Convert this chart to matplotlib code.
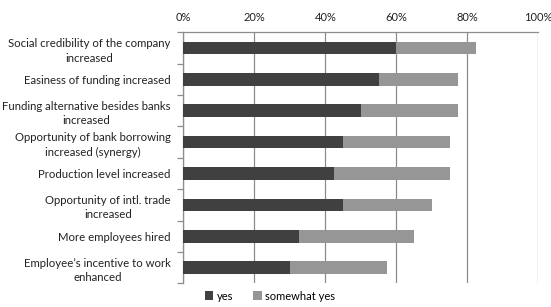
import numpy as np
import matplotlib.pyplot as plt
from matplotlib.ticker import PercentFormatter

plt.rcParams['font.family'] = ['Lato', 'DejaVu Sans']

categories = [
    "Social credibility of the company\nincreased",
    "Easiness of funding increased",
    "Funding alternative besides banks\nincreased",
    "Opportunity of bank borrowing\nincreased (synergy)",
    "Production level increased",
    "Opportunity of intl. trade\nincreased",
    "More employees hired",
    "Employee\u2019s incentive to work\nenhanced",
]
yes = [60, 55, 50, 45, 42.5, 45, 32.5, 30]
somewhat_yes = [22.5, 22.5, 27.5, 30, 32.5, 25, 32.5, 27.5]

fig = plt.figure(figsize=(5.51, 3.07), dpi=100)
ax = fig.add_axes([0.3327, 0.0772, 0.6443, 0.8176])

y = np.arange(len(categories))
ax.barh(y, yes, height=0.4, color="#404040", label="yes", zorder=3)
ax.barh(y, somewhat_yes, left=yes, height=0.4, color="#969696",
        label="somewhat yes", zorder=3)

ax.set_xlim(0, 100)
ax.set_ylim(len(categories) - 0.5, -0.5)
ax.set_xticks(range(0, 101, 20))
ax.xaxis.set_major_formatter(PercentFormatter(decimals=0))
ax.xaxis.tick_top()
ax.tick_params(axis="x", length=0, pad=7, labelsize=8, colors="#222222")
ax.grid(axis="x", color="#8c8c8c", linewidth=0.9, zorder=0)

ax.set_yticks(y)
ax.set_yticklabels(categories)
ax.set_yticks(np.arange(-0.5, len(categories), 1), minor=True)
ax.tick_params(axis="y", which="major", length=0, pad=9, labelsize=8.2,
               colors="#222222")
ax.tick_params(axis="y", which="minor", length=4, color="#8c8c8c", width=0.9)
for lab in ax.get_yticklabels():
    lab.set_multialignment("center")
    lab.set_linespacing(1.4)

for side in ["right", "bottom"]:
    ax.spines[side].set_visible(False)
for side in ["top", "left"]:
    ax.spines[side].set_color("#8c8c8c")
    ax.spines[side].set_linewidth(0.9)

fig.legend(loc="lower center", bbox_to_anchor=(0.49, -0.015), ncol=2,
           frameon=False, fontsize=8, handlelength=0.8, handleheight=0.8,
           handletextpad=0.3, columnspacing=1.8)

fig.savefig("out.png", dpi=100)
